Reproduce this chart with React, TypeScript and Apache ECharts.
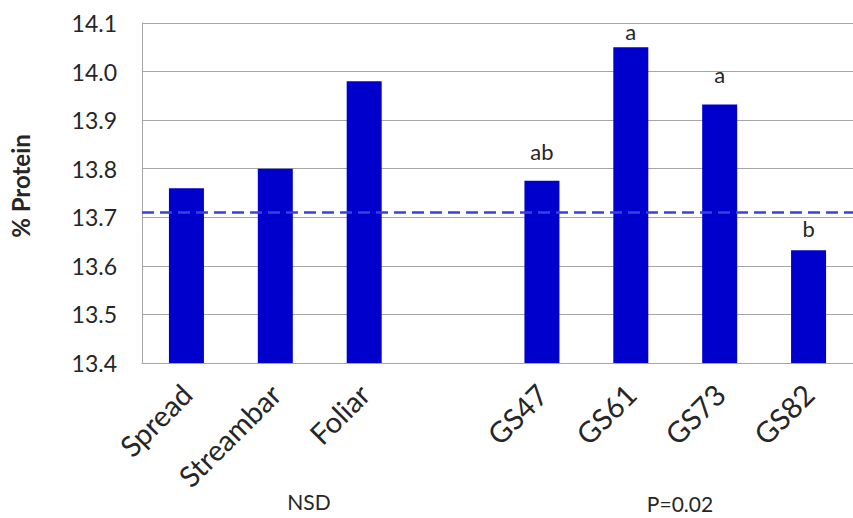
import React, { useEffect, useRef } from 'react';
import * as echarts from 'echarts';

const categories = ['Spread', 'Streambar', 'Foliar', '', 'GS47', 'GS61', 'GS73', 'GS82'];
const proteinValues: (number | null)[] = [13.76, 13.8, 13.98, null, 13.775, 14.05, 13.932, 13.632];
const letters = ['', '', '', '', 'ab', 'a', 'a', 'b'];
const letterGaps = [0, 0, 0, 0, 18, 5, 19, 11];
const yMin = 13.4;
const yMax = 14.1;
const yInterval = 0.1;
const referenceLevel = 13.705;
const groupNotes = ['NSD', 'P=0.02'];

const FONT = 'Lato, "Open Sans", sans-serif';
const TEXT = '#262626';

export default function App() {
  const ref = useRef<HTMLDivElement>(null);
  useEffect(() => {
    if (!ref.current) return;
    const chart = echarts.init(ref.current, null, { renderer: 'svg' });
    const data = proteinValues.map((v, i) => ({
      value: v,
      label: {
        show: !!letters[i],
        formatter: letters[i],
        distance: letterGaps[i],
      },
    }));
    chart.setOption({
      animation: false,
      backgroundColor: '#ffffff',
      textStyle: { fontFamily: FONT },
      grid: { left: 142, right: -9, top: 23, bottom: 155, containLabel: false },
      xAxis: {
        type: 'category',
        data: categories,
        axisTick: { show: false },
        axisLine: { lineStyle: { color: '#a6a6a6', width: 1 } },
        axisLabel: {
          rotate: 45,
          interval: 0,
          margin: 26,
          fontSize: 29,
          color: TEXT,
          fontFamily: FONT,
        },
      },
      yAxis: {
        type: 'value',
        min: yMin,
        max: yMax,
        interval: yInterval,
        name: '% Protein',
        nameLocation: 'middle',
        nameGap: 110,
        nameTextStyle: {
          fontSize: 24,
          fontWeight: 'bold',
          color: TEXT,
          fontFamily: FONT,
          padding: [0, 0, 0, 14],
        },
        axisLine: { show: true, lineStyle: { color: '#a6a6a6', width: 1 } },
        axisTick: { show: false },
        axisLabel: {
          margin: 25,
          fontSize: 23,
          color: TEXT,
          fontFamily: FONT,
          formatter: (v: number) => v.toFixed(1),
        },
        splitLine: { show: true, lineStyle: { color: '#a6a6a6', width: 1 } },
      },
      series: [
        {
          type: 'bar',
          data,
          barWidth: 35,
          itemStyle: { color: '#0000cc' },
          label: {
            position: 'top',
            fontSize: 22,
            color: TEXT,
            fontFamily: FONT,
          },
          markLine: {
            silent: true,
            symbol: 'none',
            label: { show: false },
            lineStyle: { color: '#3a40dc', width: 2.5, type: [12, 6] },
            data: [{ yAxis: referenceLevel }],
          },
        },
      ],
      graphic: [
        {
          type: 'text',
          x: 309,
          y: 501,
          style: { text: groupNotes[0], fontSize: 21, fill: TEXT, fontFamily: FONT, textAlign: 'center', textVerticalAlign: 'middle' },
        },
        {
          type: 'text',
          x: 680,
          y: 503,
          style: { text: groupNotes[1], fontSize: 21, fill: TEXT, fontFamily: FONT, textAlign: 'center', textVerticalAlign: 'middle' },
        },
      ],
    });
    return () => chart.dispose();
  }, []);
  return <div ref={ref} style={{ width: 853, height: 518, position: 'absolute', left: 0, top: 0 }} />;
}
